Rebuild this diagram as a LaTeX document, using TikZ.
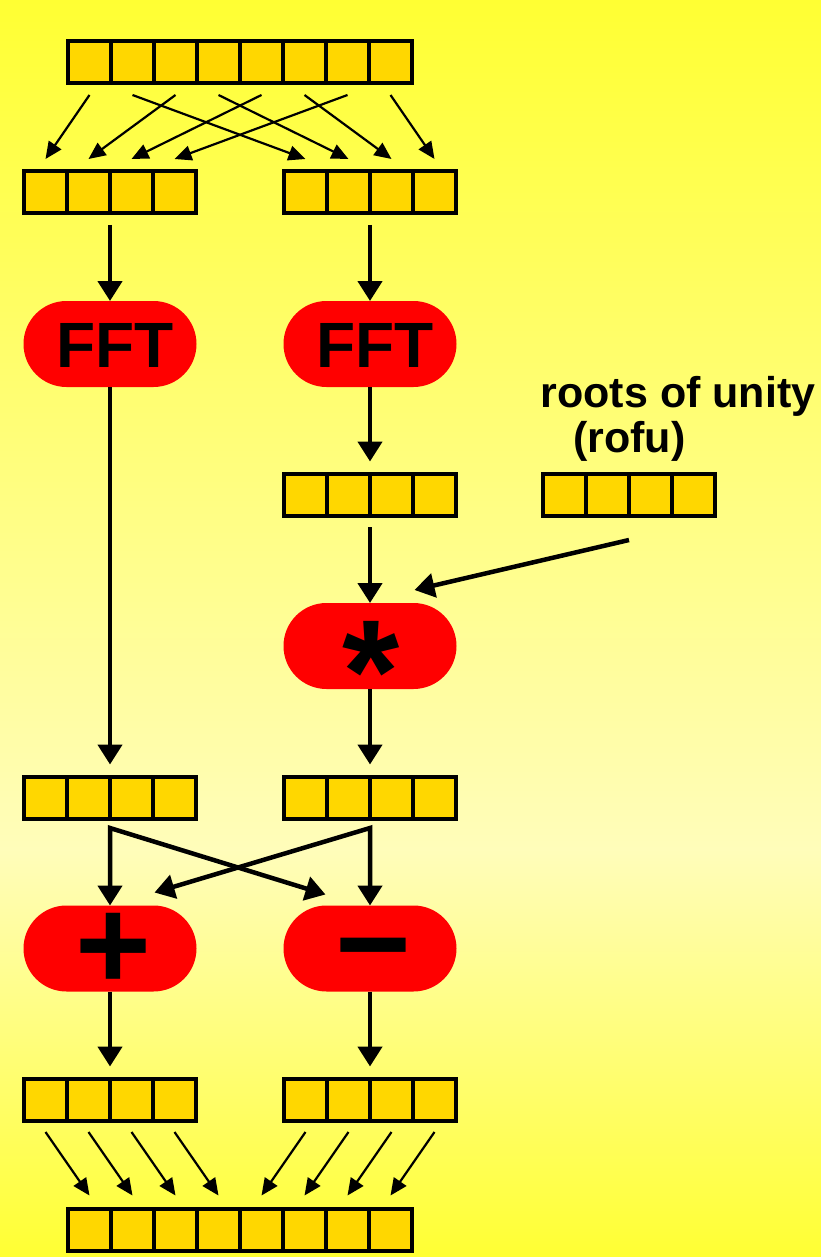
\documentclass[tikz,border=0pt]{standalone}
\usepackage{fontspec}
\setmainfont{Liberation Sans}
\usetikzlibrary{arrows.meta,calc}
\definecolor{bgtop}{HTML}{FFFF33}
\definecolor{bgmid}{HTML}{FFFDBA}
\definecolor{cellfill}{HTML}{FFD700}
\definecolor{opred}{HTML}{FF0000}
\newcommand\mkarray[4]{\foreach \k in {1,...,#2}{\node[cell] (#1-\k) at ({#3+43*(\k-1)},#4) {};}}
\newcommand\optext[4]{\smash{\raisebox{-#2pt}{\hspace*{#3pt}\fontsize{#1}{#1}\selectfont #4}}}
\begin{document}
\begin{tikzpicture}[x=1pt,y=-1pt,
  cell/.style={draw=black, line width=4pt, fill=cellfill, minimum width=43pt, minimum height=42pt, inner sep=0pt, outer sep=0pt},
  op/.style={fill=opred, rounded corners=43pt, minimum width=173pt, minimum height=86pt, inner sep=0pt, outer sep=0pt, font=\bfseries},
  thinarrow/.style={line width=2.2pt, -{Triangle[width=15pt,length=17pt]}},
  thickarrow/.style={line width=4.5pt, -{Triangle[width=24pt,length=20pt]}},
  thickboth/.style={line width=4.5pt, {Triangle[width=24pt,length=20pt]}-{Triangle[width=24pt,length=20pt]}},
  lbl/.style={anchor=base west, inner sep=0pt, font=\bfseries\fontsize{43}{43}\selectfont}
]
\useasboundingbox (0,0) rectangle (821,1257);
\shade[top color=bgtop, bottom color=bgmid] (0,0) rectangle (821,850);
\shade[top color=bgmid, bottom color=bgtop] (0,849.5) rectangle (821,1257);

% arrays
\mkarray{T}{8}{89.5}{62.5}
\mkarray{L1}{4}{45.5}{192}
\mkarray{R1}{4}{305.5}{192}
\mkarray{RA}{4}{305.5}{494.5}
\mkarray{RO}{4}{564.5}{494.5}
\mkarray{L2}{4}{45.5}{797.5}
\mkarray{R2}{4}{305.5}{797.5}
\mkarray{L3}{4}{45.5}{1099.5}
\mkarray{R3}{4}{305.5}{1099.5}
\mkarray{B}{8}{89.5}{1229.5}

% operations
\node[op] (fftL) at (110,344) {\optext{64}{23.5}{10}{FFT}};
\node[op] (fftR) at (370,344) {\optext{64}{23.5}{10}{FFT}};
\node[op] (mult) at (370,646) {\optext{147}{76.5}{2}{*}};
\node[op] (plus) at (110,948.5) {\optext{130}{40.5}{6}{+}};
\node[op] (minus) at (370,948.5) {\optext{130}{40}{6}{−}};

% labels
\node[lbl] (rofuA) at (540.5,407) {roots of unity};
\node[lbl] (rofuB) at (573,452) {(rofu)};

% split arrows
\foreach \s/\t in {1/L1-1, 2/R1-1, 3/L1-2, 4/R1-2, 5/L1-3, 6/R1-3, 7/L1-4, 8/R1-4}
  \draw[thinarrow] ([yshift=-11.5pt]T-\s.south) -- ([yshift=12pt]\t.north);

% main flow
\draw[thickarrow] ([yshift=-12pt]L1-2.south east) -- (fftL.north);
\draw[thickarrow] ([yshift=-12pt]R1-2.south east) -- (fftR.north);
\draw[thickarrow] (fftL.south) -- ([yshift=12pt]L2-2.north east);
\draw[thickarrow] (fftR.south) -- ([yshift=12pt]RA-2.north east);
\draw[thickarrow] ([yshift=-11.5pt]RA-2.south east) -- (mult.north);
\draw[thickarrow] ([yshift=-24.5pt]RO-2.south east) -- ([xshift=-42pt,yshift=13pt]mult.north east);
\draw[thickarrow] (mult.south) -- ([yshift=12pt]R2-2.north east);
\draw[thickboth] (plus.north) -- ([yshift=-9.5pt]L2-2.south east) -- ([xshift=42pt,yshift=11pt]minus.north west);
\draw[thickboth] (minus.north) -- ([yshift=-9.5pt]R2-2.south east) -- ([xshift=-42pt,yshift=13pt]plus.north east);
\draw[thickarrow] (plus.south) -- ([yshift=12pt]L3-2.north east);
\draw[thickarrow] (minus.south) -- ([yshift=12pt]R3-2.north east);

% merge arrows
\foreach \k in {1,2,3,4}{
  \pgfmathtruncatemacro\m{\k+4}
  \draw[thinarrow] ([yshift=-11.5pt]L3-\k.south) -- ([yshift=13pt]B-\k.north);
  \draw[thinarrow] ([yshift=-11.5pt]R3-\k.south) -- ([yshift=13pt]B-\m.north);
}
\end{tikzpicture}
\end{document}
